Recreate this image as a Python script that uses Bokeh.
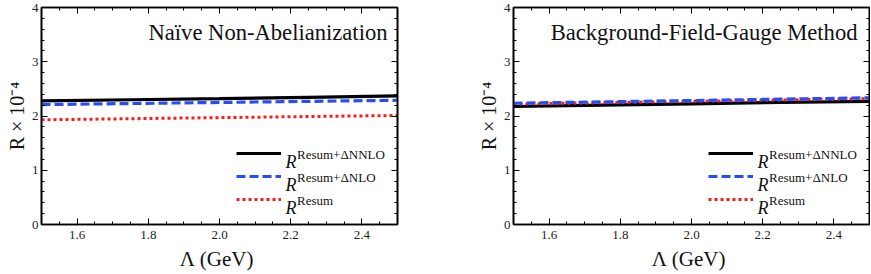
import numpy as np
from bokeh.plotting import figure
from bokeh.models import (LinearAxis, FixedTicker, PrintfTickFormatter, Label,
                          Legend, LegendItem, Range1d)
from bokeh.layouts import row
from bokeh.embed import file_html
from bokeh.resources import INLINE

# ---------------- data ----------------
lam = [1.5, 1.75, 2.0, 2.25, 2.5]

naive_nnlo = [2.28, 2.30, 2.32, 2.345, 2.37]
naive_nlo = [2.21, 2.23, 2.25, 2.27, 2.29]
naive_resum = [1.93, 1.95, 1.97, 1.99, 2.01]

bfg_nnlo = [2.175, 2.20, 2.225, 2.25, 2.27]
bfg_nlo = [2.235, 2.26, 2.285, 2.31, 2.335]
bfg_resum = [2.22, 2.245, 2.27, 2.295, 2.32]

titles = ["Naïve Non-Abelianization", "Background-Field-Gauge Method"]
legend_sup = ["Resum+ΔNNLO", "Resum+ΔNLO", "Resum"]
x_ticks = [1.6, 1.8, 2.0, 2.2, 2.4]
y_ticks = [0, 1, 2, 3, 4]
x_label = "Λ  (GeV)"
y_label = "R × 10⁻⁴"

# ---------------- style ----------------
FONT = "Liberation Serif"
FW, FH = 356, 217
X0, X1, Y0, Y1 = 1.5, 2.5, 0.0, 4.0
BLACK = "#000000"
BLUE = "#2b4cf5"
RED = "#ff1a1a"
TXT = "#111111"


def px_to_x(px):
    return X0 + px / FW * (X1 - X0)


def px_to_y(py):
    return Y0 + py / FH * (Y1 - Y0)


def style_axis(ax, labels=True):
    ax.axis_line_width = 1.6
    ax.axis_line_color = "black"
    ax.major_tick_in = 6
    ax.major_tick_out = 0
    ax.minor_tick_in = 3
    ax.minor_tick_out = 0
    ax.major_tick_line_width = 1
    ax.minor_tick_line_width = 1
    if labels:
        ax.major_label_text_font = FONT
        ax.major_label_text_font_size = "13px"
        ax.major_label_text_color = "#222222"
        ax.axis_label_text_font = FONT
        ax.axis_label_text_font_size = "20px"
        ax.axis_label_text_font_style = "normal"
        ax.axis_label_text_color = TXT
    else:
        ax.major_label_text_font_size = "1px"
        ax.major_label_text_color = None
        ax.major_label_standoff = 0


def make_panel(title, nnlo, nlo, resum, bl, br, title_right, order):
    p = figure(frame_width=FW, frame_height=FH,
               x_range=Range1d(X0, X1), y_range=Range1d(Y0, Y1),
               output_backend="svg", toolbar_location=None,
               min_border_left=bl, min_border_right=br,
               min_border_top=7, min_border_bottom=50,
               x_axis_label=x_label, y_axis_label=y_label)
    p.grid.visible = False
    p.outline_line_color = "black"
    p.outline_line_width = 1.6
    p.background_fill_color = "white"
    p.border_fill_color = "white"

    xt = FixedTicker(ticks=x_ticks,
                     minor_ticks=[round(v, 2) for v in np.arange(1.5, 2.5001, 0.05)])
    yt = FixedTicker(ticks=y_ticks,
                     minor_ticks=[round(v, 2) for v in np.arange(0, 4.0001, 0.2)])

    p.xaxis.ticker = xt
    p.yaxis.ticker = yt
    p.xaxis.formatter = PrintfTickFormatter(format="%.1f")
    p.yaxis.formatter = PrintfTickFormatter(format="%d")
    style_axis(p.xaxis[0])
    style_axis(p.yaxis[0])
    p.xaxis.axis_label_text_font_size = "21px"
    p.xaxis.major_label_standoff = 6
    p.xaxis.axis_label_standoff = 5
    p.yaxis.major_label_standoff = 3
    p.yaxis.axis_label_standoff = 1

    top = LinearAxis(ticker=xt)
    right = LinearAxis(ticker=yt)
    style_axis(top, labels=False)
    style_axis(right, labels=False)
    p.add_layout(top, "above")
    p.add_layout(right, "right")

    rends = {}
    specs = {
        "nnlo": dict(y=nnlo, color=BLACK, dash="solid", w=3.2),
        "nlo": dict(y=nlo, color=BLUE, dash="9 4", w=3.2),
        "resum": dict(y=resum, color=RED, dash="3 3", w=3.0),
    }
    for k in order:
        s = specs[k]
        rends[k] = p.line(lam, s["y"], line_color=s["color"], line_width=s["w"],
                          line_dash=s["dash"])

    # legend swatches
    items = [LegendItem(label=" ", renderers=[rends[k]]) for k in ["nnlo", "nlo", "resum"]]
    leg = Legend(items=items, location=(195, 15), padding=0, margin=0, spacing=3,
                 glyph_width=45, glyph_height=20, label_height=20, label_width=1,
                 label_standoff=0, label_text_font_size="1px",
                 label_text_color=None,
                 background_fill_alpha=0, border_line_alpha=0)
    p.add_layout(leg)

    # legend texts R^{...}
    centers = [71, 48, 25]
    for c, sup in zip(centers, legend_sup):
        p.add_layout(Label(x=px_to_x(244), y=px_to_y(c - 8), text="R",
                           text_font=FONT, text_font_size="18px",
                           text_font_style="italic", text_baseline="alphabetic",
                           text_align="left", text_color=TXT))
        p.add_layout(Label(x=px_to_x(255.5), y=px_to_y(c - 1), text=sup,
                           text_font=FONT, text_font_size="13px",
                           text_baseline="alphabetic", text_align="left",
                           text_color=TXT))

    # title inside frame
    p.add_layout(Label(x=px_to_x(FW - title_right), y=px_to_y(FH - 25), text=title,
                       text_font=FONT, text_font_size="22.6px",
                       text_baseline="alphabetic", text_align="right",
                       text_color=TXT))
    return p


p1 = make_panel(titles[0], naive_nnlo, naive_nlo, naive_resum, 41, 75, 10,
                ["resum", "nlo", "nnlo"])
p2 = make_panel(titles[1], bfg_nnlo, bfg_nlo, bfg_resum, 41, 1, 12,
                ["nnlo", "resum", "nlo"])

layout = row(p1, p2)
open("out.html", "w").write(file_html(layout, INLINE))
